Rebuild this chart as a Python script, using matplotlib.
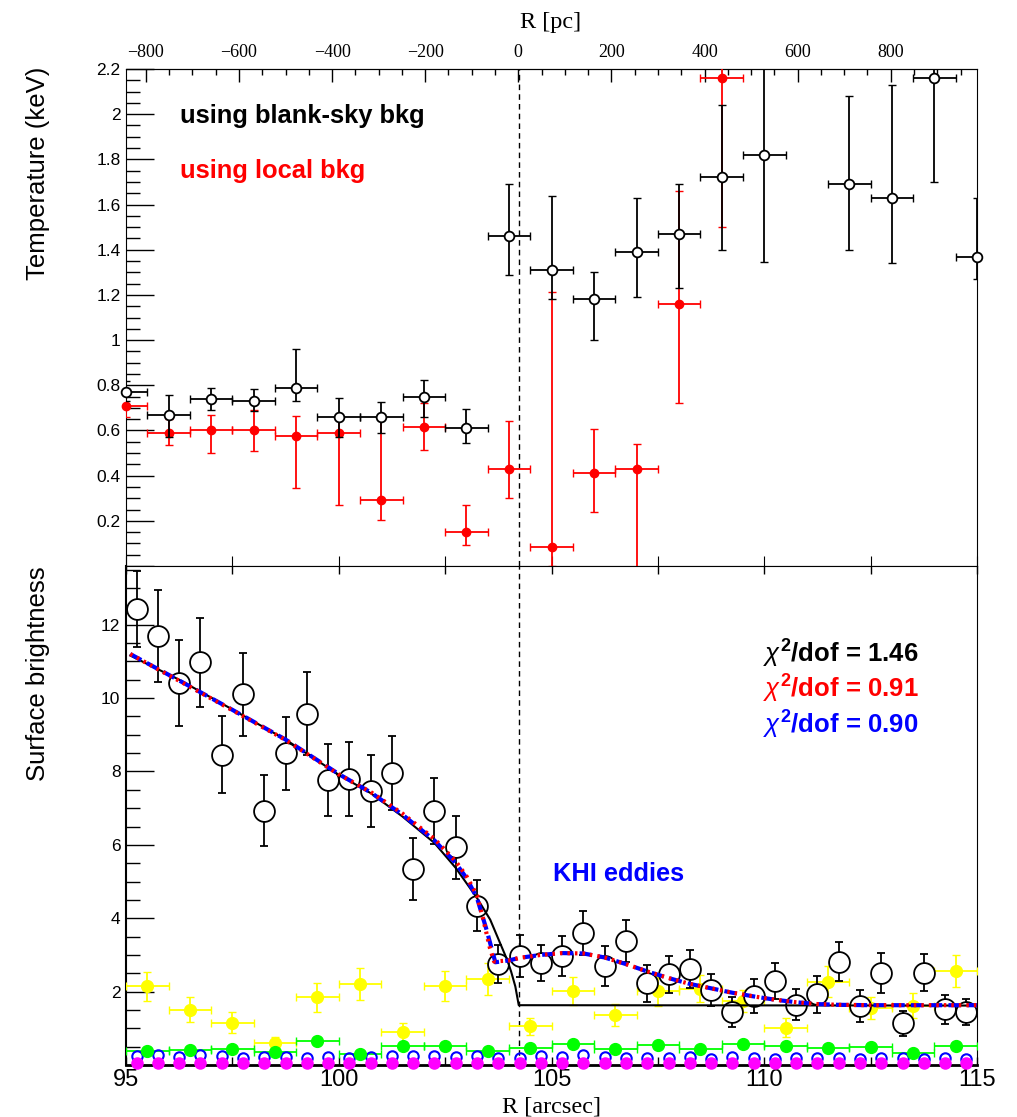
import numpy as np
import matplotlib
matplotlib.use('Agg')
import matplotlib.pyplot as plt
from matplotlib.ticker import MultipleLocator, FuncFormatter

plt.rcParams['font.family'] = ['Liberation Sans', 'DejaVu Sans']
plt.rcParams['mathtext.fontset'] = 'custom'
plt.rcParams['mathtext.rm'] = 'Liberation Sans'
plt.rcParams['mathtext.it'] = 'Liberation Sans:italic'
plt.rcParams['mathtext.bf'] = 'Liberation Sans:bold'

# ---------------- data: temperature panel ----------------
t_black_r = [95, 96, 97, 98, 99, 100, 101, 102, 103, 104, 105, 106, 107, 108, 109, 110, 112, 113, 114, 115]
t_black = [0.77, 0.67, 0.74, 0.73, 0.79, 0.66, 0.66, 0.75, 0.61, 1.46, 1.31, 1.18, 1.39, 1.47, 1.72, 1.82,
           1.69, 1.63, 2.16, 1.37]
t_black_lo = [0.04, 0.10, 0.05, 0.045, 0.06, 0.09, 0.07, 0.09, 0.065, 0.17, 0.13, 0.18, 0.20, 0.24, 0.32,
              0.475, 0.29, 0.29, 0.46, 0.10]
t_black_hi = [0.05, 0.085, 0.05, 0.055, 0.17, 0.085, 0.065, 0.075, 0.085, 0.23, 0.33, 0.12, 0.24, 0.22,
              0.32, 0.475, 0.39, 0.50, 0.46, 0.26]

t_red_r = [95, 96, 97, 98, 99, 100, 101, 102, 103, 104, 105, 106, 107, 108, 109]
t_red = [0.71, 0.59, 0.60, 0.60, 0.575, 0.59, 0.29, 0.615, 0.15, 0.43, 0.085, 0.41, 0.43, 1.16, 2.16]
t_red_lo = [0.05, 0.055, 0.10, 0.09, 0.23, 0.32, 0.085, 0.10, 0.055, 0.13, 0.085, 0.17, 0.45, 0.44, 0.66]
t_red_hi = [0.055, 0.06, 0.07, 0.09, 0.09, 0.07, 0.36, 0.105, 0.12, 0.21, 1.13, 0.195, 0.11, 0.50, 0.66]
t_xerr = 0.5

# ---------------- data: surface brightness panel ----------------
sb_r = [95.25, 95.75, 96.25, 96.75, 97.25, 97.75, 98.25, 98.75, 99.25, 99.75,
        100.25, 100.75, 101.25, 101.75, 102.25, 102.75, 103.25, 103.75, 104.25, 104.75,
        105.25, 105.75, 106.25, 106.75, 107.25, 107.75, 108.25, 108.75, 109.25, 109.75,
        110.25, 110.75, 111.25, 111.75, 112.25, 112.75, 113.25, 113.75, 114.25, 114.75]
sb = [12.43, 11.69, 10.41, 10.98, 8.46, 10.10, 6.93, 8.49, 9.57, 7.76,
      7.80, 7.47, 7.96, 5.34, 6.91, 5.93, 4.34, 2.75, 2.96, 2.78,
      2.97, 3.61, 2.70, 3.38, 2.23, 2.47, 2.61, 2.05, 1.44, 1.88,
      2.29, 1.64, 1.93, 2.82, 1.61, 2.50, 1.14, 2.52, 1.52, 1.44]
sb_err = [1.03, 1.25, 1.18, 1.21, 1.05, 1.12, 0.97, 1.0, 1.13, 0.98,
          1.0, 0.98, 1.0, 0.85, 0.9, 0.85, 0.7, 0.52, 0.57, 0.5,
          0.55, 0.6, 0.55, 0.58, 0.5, 0.5, 0.52, 0.43, 0.41, 0.47,
          0.5, 0.42, 0.5, 0.53, 0.44, 0.55, 0.34, 0.5, 0.39, 0.35]

bin_r = [95.5, 96.5, 97.5, 98.5, 99.5, 100.5, 101.5, 102.5, 103.5, 104.5,
         105.5, 106.5, 107.5, 108.5, 109.5, 110.5, 111.5, 112.5, 113.5, 114.5]
yel = [2.14, 1.50, 1.15, 0.59, 1.84, 2.21, 0.89, 2.16, 2.35, 1.06,
       2.02, 1.35, 2.02, 2.08, 1.75, 1.02, 2.27, 1.55, 1.61, 2.57]
yel_err = [0.40, 0.34, 0.29, 0.16, 0.39, 0.43, 0.26, 0.41, 0.43, 0.23,
           0.39, 0.30, 0.40, 0.37, 0.30, 0.27, 0.43, 0.30, 0.34, 0.44]
grn = [0.39, 0.41, 0.44, 0.36, 0.66, 0.29, 0.52, 0.53, 0.39, 0.47,
       0.57, 0.43, 0.55, 0.43, 0.56, 0.53, 0.46, 0.50, 0.34, 0.53]
grn_err = [0.04] * 20
blu = [0.25, 0.27, 0.23, 0.26, 0.245, 0.19, 0.23, 0.23, 0.19, 0.23,
       0.19, 0.23, 0.25, 0.25, 0.25, 0.23, 0.25, 0.19, 0.19, 0.25,
       0.21, 0.27, 0.23, 0.19, 0.19, 0.19, 0.23, 0.15, 0.23, 0.19,
       0.17, 0.19, 0.19, 0.19, 0.16, 0.19, 0.19, 0.15, 0.19, 0.16]
mag = [0.06, 0.06, 0.06, 0.06, 0.06, 0.05, 0.06, 0.06, 0.05, 0.06,
       0.06, 0.06, 0.06, 0.06, 0.06, 0.06, 0.06, 0.06, 0.05, 0.06,
       0.06, 0.06, 0.06, 0.06, 0.06, 0.06, 0.06, 0.05, 0.06, 0.06,
       0.06, 0.06, 0.06, 0.06, 0.05, 0.06, 0.06, 0.06, 0.06, 0.05]

# model curves
fit_k_r = [95.1, 96.25, 97.5, 98.75, 100.0, 100.75, 101.5, 102.25, 102.75, 103.25, 103.56,
           103.96, 104.05, 104.15, 104.23, 115.0]
fit_k = [11.16, 10.50, 9.69, 8.87, 7.91, 7.41, 6.77, 6.05, 5.37, 4.55, 3.96,
         2.86, 2.55, 2.14, 1.63, 1.62]
fit_b_r = [95.1, 96.25, 97.5, 98.75, 100.0, 100.75, 101.5, 102.25, 102.75, 103.0, 103.25, 103.47,
           103.68, 104.0, 104.25, 104.75, 105.25, 105.75, 106.25, 106.75, 107.25, 107.75, 108.25,
           108.75, 109.25, 109.75, 110.25, 110.75, 111.25, 111.75, 112.5, 115.0]
fit_b = [11.2, 10.48, 9.68, 8.87, 7.93, 7.43, 6.82, 6.12, 5.5, 5.1, 4.55, 3.7,
         2.80, 2.85, 2.92, 3.0, 3.05, 3.04, 2.93, 2.75, 2.55, 2.37, 2.21,
         2.09, 1.97, 1.87, 1.78, 1.71, 1.66, 1.64, 1.63, 1.63]
fit_r_r = [95.1, 96.25, 97.5, 98.75, 100.0, 100.75, 101.5, 102.25, 102.75, 103.0, 103.25, 103.4,
           103.55, 103.65, 104.0, 104.25, 104.75, 105.25, 105.75, 106.25, 106.75, 107.25, 107.75,
           108.25, 108.75, 109.25, 109.75, 110.25, 110.75, 111.25, 111.75, 112.5, 115.0]
fit_r = [11.2, 10.47, 9.67, 8.86, 7.92, 7.44, 6.85, 6.16, 5.55, 5.15, 4.62, 3.95,
         3.2, 2.82, 2.85, 2.92, 3.0, 3.05, 3.04, 2.93, 2.75, 2.55, 2.37,
         2.21, 2.09, 1.97, 1.87, 1.78, 1.71, 1.66, 1.64, 1.63, 1.63]

edge_r = 104.23          # vertical dashed line (arcsec)
pc_zero = 104.22         # arcsec position of 0 pc
pc_per_arcsec = 91.4

# ---------------- figure ----------------
W, H = 1017, 1117
fig = plt.figure(figsize=(W / 100, H / 100), dpi=100)
L, RGT = 126, 977
ax1 = fig.add_axes([L / W, 1 - 566 / H, (RGT - L) / W, (566 - 69) / H])
ax2 = fig.add_axes([L / W, 1 - 1065 / H, (RGT - L) / W, (1065 - 566) / H])

def gfmt(v, p):
    if abs(v) < 1e-9:
        return ''
    return f"{round(v, 3):g}"

# ---- top panel ----
ax1.errorbar(t_red_r, t_red, yerr=[t_red_lo, t_red_hi], xerr=t_xerr, fmt='none', ecolor='#ff0000',
             elinewidth=1.3, capsize=3, capthick=1, zorder=3)
ax1.plot(t_red_r, t_red, 'o', ms=6, color='#ff0000', zorder=3.2, clip_on=False)
ax1.errorbar(t_black_r, t_black, yerr=[t_black_lo, t_black_hi], xerr=t_xerr, fmt='none', ecolor='black',
             elinewidth=1.3, capsize=3, capthick=1, zorder=3.3)
ax1.plot(t_black_r, t_black, 'o', ms=7, mfc='white', mec='black', mew=1.3, zorder=3.5, clip_on=False)
ax1.axvline(edge_r, color='black', ls=(0, (4, 3)), lw=1.0, zorder=1)
ax1.set_xlim(95, 115)
ax1.set_ylim(0, 2.2)
ax1.yaxis.set_major_locator(MultipleLocator(0.2))
ax1.yaxis.set_minor_locator(MultipleLocator(0.05))
ax1.yaxis.set_major_formatter(FuncFormatter(gfmt))
ax1.xaxis.set_major_locator(MultipleLocator(2.5))
ax1.tick_params(axis='y', which='major', direction='in', length=20, width=1, left=True, right=False,
                labelsize=12.5, pad=4)
ax1.tick_params(axis='y', which='minor', direction='in', length=10, width=1, left=True, right=False)
ax1.tick_params(axis='x', which='both', direction='in', length=7, bottom=True, top=False,
                labelbottom=False)

sec = ax1.secondary_xaxis('top', functions=(lambda r: (np.asarray(r) - pc_zero) * pc_per_arcsec,
                                            lambda p: np.asarray(p) / pc_per_arcsec + pc_zero))
sec.xaxis.set_major_locator(MultipleLocator(200))
sec.xaxis.set_minor_locator(MultipleLocator(50))
sec.tick_params(which='major', direction='in', length=9, width=1, labelsize=13,
                labelfontfamily='Liberation Serif', pad=6)
sec.tick_params(which='minor', direction='in', length=4.5, width=1)

fig.text(180 / W, 1 - 123 / H, 'using blank-sky bkg', color='black', fontsize=18.4,
         fontweight='bold', ha='left', va='baseline')
fig.text(180 / W, 1 - 178 / H, 'using local bkg', color='#ff0000', fontsize=18.4,
         fontweight='bold', ha='left', va='baseline')

# ---- bottom panel ----
ax2.errorbar(bin_r, yel, yerr=yel_err, xerr=0.5, fmt='o', color='#ffff00', ms=8.5,
             elinewidth=1.3, capsize=3, capthick=1, zorder=3)
ax2.errorbar(bin_r, grn, yerr=grn_err, xerr=0.5, fmt='o', color='#00ff00', ms=8.5,
             elinewidth=1.3, capsize=3, capthick=1, zorder=3)
ax2.plot(sb_r, blu, 'o', ms=7.5, mfc='none', mec='#0000ff', mew=1.5, zorder=3, clip_on=False)
ax2.plot(sb_r, mag, 'o', ms=8, color='#ff00ff', zorder=3.1, clip_on=False)
ax2.errorbar(sb_r, sb, yerr=sb_err, fmt='o', color='black', ms=15, mfc='white', mec='black',
             mew=1.3, elinewidth=1.3, capsize=3, capthick=1, zorder=3.5)
ax2.plot(fit_k_r, fit_k, '-', color='black', lw=1.5, zorder=4)
ax2.plot(fit_b_r, fit_b, color='#0000ff', lw=3, ls=(0, (3, 1.5)), zorder=4.1)
ax2.plot(fit_r_r, fit_r, color='#ff0000', lw=3, ls=(0, (0.6, 1.2)), zorder=4.2)
ax2.axvline(edge_r, color='black', ls=(0, (4, 3)), lw=1.0, zorder=1)
ax2.set_xlim(95, 115)
ax2.set_ylim(0, 13.6)
ax2.yaxis.set_major_locator(MultipleLocator(2))
ax2.yaxis.set_minor_locator(MultipleLocator(0.5))
ax2.yaxis.set_major_formatter(FuncFormatter(gfmt))
ax2.xaxis.set_major_locator(MultipleLocator(5))
ax2.xaxis.set_minor_locator(MultipleLocator(2.5))
ax2.xaxis.set_major_formatter(FuncFormatter(lambda v, p: f"{v:g}"))
ax2.tick_params(axis='y', which='major', direction='in', length=20, width=1, left=True, right=False,
                labelsize=12.5, pad=4)
ax2.tick_params(axis='y', which='minor', direction='in', length=10, width=1, left=True, right=False)
ax2.tick_params(axis='x', which='both', direction='in', length=6, width=1, bottom=True, top=True,
                labelsize=17, pad=3)
ax2.spines['bottom'].set_linewidth(2)
ax2.spines['left'].set_linewidth(1.5)

fig.text(763 / W, 1 - 663 / H, r'$\chi^{\mathbf{2}}$/dof = 1.46', color='black', fontsize=18.5,
         fontweight='bold', ha='left', va='baseline')
fig.text(763 / W, 1 - 698 / H, r'$\chi^{\mathbf{2}}$/dof = 0.91', color='#ff0000', fontsize=18.5,
         fontweight='bold', ha='left', va='baseline')
fig.text(763 / W, 1 - 734 / H, r'$\chi^{\mathbf{2}}$/dof = 0.90', color='#0000ff', fontsize=18.5,
         fontweight='bold', ha='left', va='baseline')
fig.text(553 / W, 1 - 881 / H, 'KHI eddies', color='#0000ff', fontsize=18.3,
         fontweight='bold', ha='left', va='baseline')

# axis titles
fig.text(38 / W, 1 - 67 / H, 'Temperature (keV)', rotation=90, fontsize=18.5, ha='center', va='top')
fig.text(38 / W, 1 - 566 / H, 'Surface brightness', rotation=90, fontsize=18.5, ha='center', va='top')
fig.text(551 / W, 1 - 1113 / H, 'R [arcsec]', fontsize=17.5, family='Liberation Serif',
         ha='center', va='baseline')
fig.text(551 / W, 1 - 28 / H, 'R [pc]', fontsize=17.5, family='Liberation Serif',
         ha='center', va='baseline')

fig.savefig('out.png', dpi=100)
